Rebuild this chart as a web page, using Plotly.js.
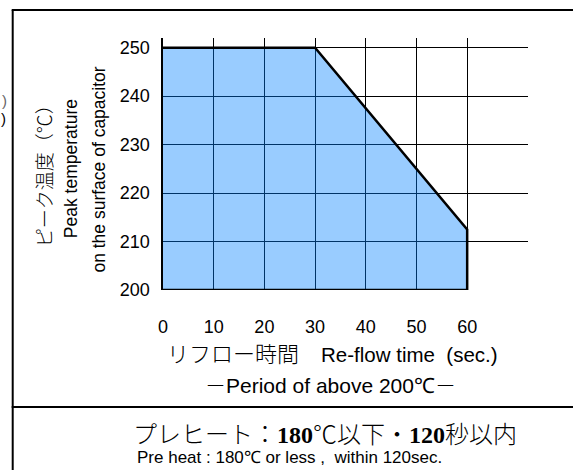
<!DOCTYPE html>
<html>
<head>
<meta charset="utf-8">
<script src="https://cdn.plot.ly/plotly-3.0.1.min.js"></script>
<style>
html,body{margin:0;padding:0;background:#fff;}
#chart{width:573px;height:470px;}
</style>
</head>
<body>
<div id="chart"></div>
<script>
// ---- data ----
const profileTime = [0, 30, 60, 60, 0];           // Re-flow time (sec.)
const profileTemp = [250, 250, 212.5, 200, 200];   // Peak temperature (°C)
const xTicks = [0, 10, 20, 30, 40, 50, 60];
const yTicks = [200, 210, 220, 230, 240, 250];

// ---- layout helpers (pixel -> paper) ----
const W = 573, H = 470;
const L = 163, R = 44.5, T = 38, B = 180;
const PW = W - L - R, PH = H - T - B;
const px = v => (v - L) / PW;
const py = v => (H - B - v) / PH;

const SANS = "'Liberation Sans', Arial, sans-serif";
const JP = "'Noto Sans CJK JP', sans-serif";
const JPs = "Noto Sans CJK JP";

const trace = {
  x: profileTime, y: profileTemp,
  type: 'scatter', mode: 'lines', fill: 'toself',
  fillcolor: 'rgba(0,128,255,0.4)',
  line: {color: '#000', width: 2.5},
  hoverinfo: 'skip', showlegend: false
};

const ann = (text, x, y, size, opts) => Object.assign({
  text: text, xref: 'paper', yref: 'paper', x: px(x), y: py(y),
  xanchor: 'center', yanchor: 'middle', showarrow: false,
  font: {family: SANS, size: size, color: '#000'}
}, opts || {});

const jp = (t, s) => '<span style="font-family:' + JPs + ';font-weight:300' + (s ? ';font-size:' + s + 'px' : '') + '">' + t + '</span>';

const layout = {
  width: W, height: H,
  margin: {l: L, r: R, t: T, b: B, pad: 0},
  paper_bgcolor: '#fff', plot_bgcolor: '#fff',
  showlegend: false,
  xaxis: {
    range: [0, 72], tickvals: xTicks, ticktext: xTicks.map(String),
    showgrid: true, gridcolor: '#000', gridwidth: 1,
    zeroline: false, showline: false, ticks: '',
    ticklabelstandoff: 24,
    tickfont: {family: SANS, size: 18, color: '#000'},
    fixedrange: true
  },
  yaxis: {
    range: [200, 252], tickvals: yTicks, ticktext: yTicks.map(String),
    showgrid: true, gridcolor: '#000', gridwidth: 1,
    zeroline: false, showline: true, linecolor: '#000', linewidth: 2.5,
    ticks: '', ticklabelstandoff: 7,
    tickfont: {family: SANS, size: 18, color: '#000'},
    fixedrange: true
  },
  annotations: [
    ann('ピーク温度（℃）', 43, 171, 19, {textangle: -90, font: {family: JP, size: 19, color: '#000', weight: 300}}),
    ann('Peak temperature', 71, 169, 17.5, {textangle: -90}),
    ann('on the surface of capacitor', 99, 169.5, 17.5, {textangle: -90}),
    ann(jp('リフロー時間　', 22) + 'Re-flow time  (sec.)', 333, 352, 20.5, {font: {family: SANS, size: 20.5, color: '#000'}}),
    ann(jp('－') + 'Period of above 200℃' + jp('－'), 331, 384, 21),
    ann(jp('プレヒート：') + '<b style="font-family:Liberation Serif">180</b>' + jp('℃以下・') + '<b style="font-family:Liberation Serif">120</b>' + jp('秒以内'), 325, 432, 24, {font: {family: JP, size: 24, color: '#000'}}),
    ann('Pre heat : 180℃ or less ,  within 120sec.', 135, 458, 17, {xanchor: 'left'}),
    ann(')', 9, 100, 15, {xanchor: 'right', font: {family: SANS, size: 15, color: '#666'}}),
    ann(')', 7.5, 119, 15, {xanchor: 'right'})
  ],
  shapes: [
    {type: 'line', xref: 'paper', yref: 'paper', x0: px(12.5), x1: px(12.5), y0: py(10), y1: py(472), line: {color: '#000', width: 2}},
    {type: 'line', xref: 'paper', yref: 'paper', x0: px(11.5), x1: px(575), y0: py(10), y1: py(10), line: {color: '#000', width: 2}},
    {type: 'line', xref: 'paper', yref: 'paper', x0: px(11.5), x1: px(575), y0: py(407), y1: py(407), line: {color: '#000', width: 2}}
  ]
};

Plotly.newPlot('chart', [trace], layout, {staticPlot: true, displayModeBar: false});
</script>
</body>
</html>
